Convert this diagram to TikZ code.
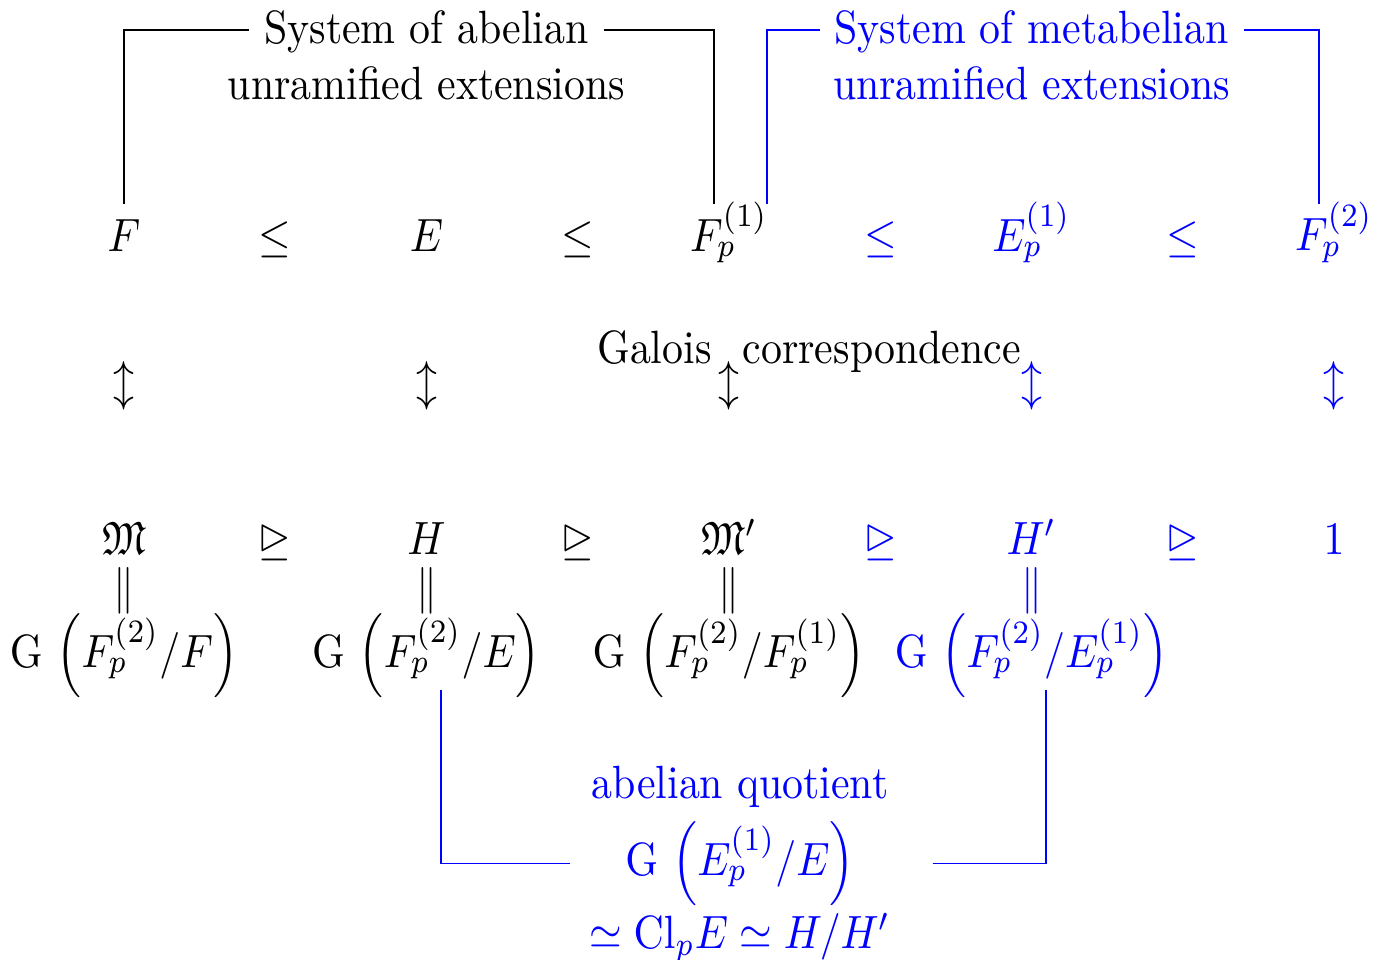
\documentclass[tikz,border=0pt]{standalone}
\usepackage{amsmath,amssymb}
\usepackage{xcolor}
\usetikzlibrary{positioning,calc}

\begin{document}
\begin{tikzpicture}[
    yscale=1.115, transform shape,
    node distance=36.14pt, on grid,
    field/.style={text height=6.6pt, text depth=2pt},
    group/.style={text height=11.5pt, text depth=6.5pt},
    title/.style={text height=6.94pt, text depth=0.9pt},
    meta/.style={text=blue},
    bracket/.style={line width=0.4pt},
    metabracket/.style={blue, line width=0.4pt}
]
\useasboundingbox (-29.63pt,53.79pt) rectangle (300.57pt,-151.74pt);

% Tower of fields
\node[field, anchor=base] (F) at (0,0) {$F$};
\node[field, right=of F] (le1) {$\leq$};
\node[field, right=of le1] (E) {$E$};
\node[field, right=of E] (le2) {$\leq$};
\node[field, right=of le2] (Fp1) {$F_p^{(1)}$};
\node[field, meta, right=of Fp1] (le3) {$\leq$};
\node[field, meta, right=of le3] (Ep1) {$E_p^{(1)}$};
\node[field, meta, right=of Ep1] (le4) {$\leq$};
\node[field, meta, right=of le4] (Fp2) {$F_p^{(2)}$};

% Titles
\node[title, above=45.08pt of E] (abtop) {System of abelian};
\node[title, below=12pt of abtop] (abbot) {unramified extensions};
\node[title, meta, above=45.08pt of Ep1] (mbtop) {System of metabelian};
\node[title, meta, below=12pt of mbtop] (mbbot) {unramified extensions};

% Galois correspondence
\node[below=31.23pt of F] (uF) {$\updownarrow$};
\node[right=72.28pt of uF] (uE) {$\updownarrow$};
\node[right=72.28pt of uE] (uFp1) {$\updownarrow$};
\node[meta, right=72.28pt of uFp1] (uEp1) {$\updownarrow$};
\node[meta, right=72.28pt of uEp1] (uFp2) {$\updownarrow$};
\node[anchor=base] (galois) at (163.68pt,-24.11pt) {Galois\hspace{7.4pt}correspondence};

% Tower of groups
\node[field, below=64.94pt of F] (M) {$\mathfrak{M}$};
\node[field, right=of M] (nm1) {$\trianglerighteq$};
\node[field, right=of nm1] (H) {$H$};
\node[field, right=of H] (nm2) {$\trianglerighteq$};
\node[field, right=of nm2] (Mp) {$\mathfrak{M}'$};
\node[field, meta, right=of Mp] (nm3) {$\trianglerighteq$};
\node[field, meta, right=of nm3] (Hp) {$H'$};
\node[field, meta, right=of Hp] (nm4) {$\trianglerighteq$};
\node[field, meta, right=of nm4] (one) {$1$};

\node[below=10.12pt of M] (eqM) {$\|$};
\node[below=10.12pt of H] (eqH) {$\|$};
\node[below=10.12pt of Mp] (eqMp) {$\|$};
\node[meta, below=10.12pt of Hp] (eqHp) {$\|$};

\node[group, below=24.02pt of M] (GM) {$\mathrm{G}\,\left(F_p^{(2)}/F\right)$};
\node[group, below=24.02pt of H] (GH) {$\mathrm{G}\,\left(F_p^{(2)}/E\right)$};
\node[group, below=24.02pt of Mp] (GMp) {$\mathrm{G}\,\left(F_p^{(2)}/F_p^{(1)}\right)$};
\node[group, meta, below=24.02pt of Hp] (GHp) {$\mathrm{G}\,\left(F_p^{(2)}/E_p^{(1)}\right)$};

% Abelian quotient
\node[group, meta] (gq) at (147.2pt,-131.23pt) {$\mathrm{G}\,\left(E_p^{(1)}/E\right)$};
\node[title, meta, above=17.02pt of gq] (aq) {abelian quotient};
\node[meta, text height=7.5pt, text depth=2.5pt, below=15.65pt of gq] (clq) {$\simeq \mathrm{Cl}_pE \simeq H/H'$};
\coordinate (qr) at ($(gq.east -| clq.east)+(6.5pt,0)$);

% Brackets
\draw[bracket] (F.north) |- (abtop.west);
\draw[bracket] (abtop.east) -| ([xshift=-3.6pt]Fp1.north);
\draw[metabracket] ([xshift=9.08pt]Fp1.north) |- (mbtop.west);
\draw[metabracket] (mbtop.east) -| ([xshift=-3.6pt]Fp2.north);
\draw[metabracket] ([xshift=3.5pt,yshift=5.12pt]GH.south) |- ([xshift=-1.2pt]gq.west -| clq.west);
\draw[metabracket] (qr) -| ([xshift=3.5pt,yshift=5.12pt]GHp.south);

\end{tikzpicture}
\end{document}
